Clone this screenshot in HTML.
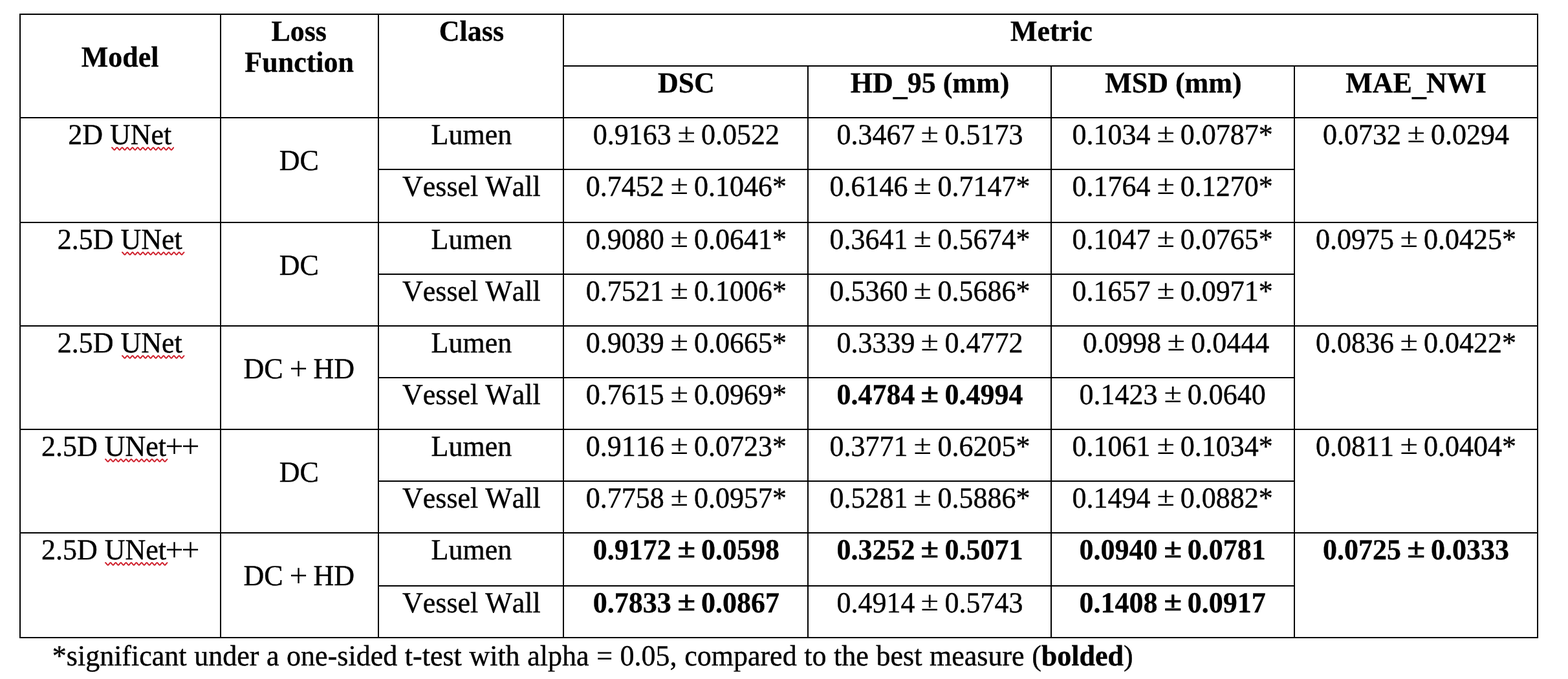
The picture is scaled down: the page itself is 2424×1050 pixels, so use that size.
<!DOCTYPE html>
<html lang="en">
<head>
<meta charset="utf-8">
<title>Table</title>
<style>
html,body{margin:0;padding:0;background:#fff;}
body{width:2424px;height:1050px;position:relative;overflow:hidden;font-family:"Liberation Serif",serif;font-size:44px;color:#000;font-kerning:none;text-rendering:geometricPrecision;}
.l{position:absolute;background:#000;}
.t{position:absolute;text-align:center;white-space:pre;line-height:50px;height:50px;}
.t{-webkit-text-stroke:0.4px #000;transform:scaleY(1.025);transform-origin:0 39.85px;}
.b{font-weight:bold;-webkit-text-stroke:0.3px #000;}
.pm{display:inline-block;transform:translate(0.2px,-2.5px) scale(1.14,0.95);}
.pl{display:inline-block;transform:scale(1.13);-webkit-text-stroke:0;}
.pm{-webkit-text-stroke:0.15px #000;}
.b .pm{-webkit-text-stroke:0.7px #000;}
.us{position:relative;top:3.5px;}
.sq{position:absolute;}
</style>
</head>
<body>
<div class="l" style="left:30px;top:21px;width:2348px;height:2px"></div>
<div class="l" style="left:870px;top:101px;width:1508px;height:2px"></div>
<div class="l" style="left:30px;top:181px;width:2348px;height:2px"></div>
<div class="l" style="left:584px;top:261px;width:1418px;height:2px"></div>
<div class="l" style="left:584px;top:423px;width:1418px;height:2px"></div>
<div class="l" style="left:584px;top:583px;width:1418px;height:2px"></div>
<div class="l" style="left:584px;top:743px;width:1418px;height:2px"></div>
<div class="l" style="left:584px;top:905px;width:1418px;height:2px"></div>
<div class="l" style="left:30px;top:343px;width:2348px;height:2px"></div>
<div class="l" style="left:30px;top:503px;width:2348px;height:2px"></div>
<div class="l" style="left:30px;top:663px;width:2348px;height:2px"></div>
<div class="l" style="left:30px;top:823px;width:2348px;height:2px"></div>
<div class="l" style="left:30px;top:985px;width:2348px;height:2px"></div>
<div class="l" style="left:30px;top:21px;width:2px;height:966px"></div>
<div class="l" style="left:340px;top:21px;width:2px;height:966px"></div>
<div class="l" style="left:584px;top:21px;width:2px;height:966px"></div>
<div class="l" style="left:870px;top:21px;width:2px;height:966px"></div>
<div class="l" style="left:2376px;top:21px;width:2px;height:966px"></div>
<div class="l" style="left:1248px;top:101px;width:2px;height:886px"></div>
<div class="l" style="left:1624px;top:101px;width:2px;height:886px"></div>
<div class="l" style="left:2000px;top:101px;width:2px;height:886px"></div>
<div class="t b" style="left:30.65px;top:63.65px;width:310px">Model</div>
<div class="t b" style="left:340.20px;top:23.85px;width:244px">Loss</div>
<div class="t b" style="left:340.70px;top:71.85px;width:244px">Function</div>
<div class="t b" style="left:585.90px;top:23.85px;width:286px">Class</div>
<div class="t b" style="left:872.40px;top:23.85px;width:1506px">Metric</div>
<div class="t b" style="left:871.90px;top:104.35px;width:378px">DSC</div>
<div class="t b" style="left:1249.50px;top:104.35px;width:376px">HD<span class="us">_</span>95 (mm)</div>
<div class="t b" style="left:1625.90px;top:104.35px;width:376px">MSD (mm)</div>
<div class="t b" style="left:2001.00px;top:104.35px;width:376px">MAE<span class="us">_</span>NWI</div>
<div class="t" style="left:30.25px;top:184.35px;width:310px">2D <span class="u">UNet</span></div>
<div class="t" style="left:340.20px;top:223.95px;width:244px">DC</div>
<div class="t" style="left:585.90px;top:184.35px;width:286px">Lumen</div>
<div class="t" style="left:585.90px;top:264.35px;width:286px">Vessel Wall</div>
<div class="t" style="left:871.90px;top:184.35px;width:378px">0.9163 <span class="pm">±</span> 0.0522</div>
<div class="t" style="left:1249.50px;top:184.35px;width:376px">0.3467 <span class="pm">±</span> 0.5173</div>
<div class="t" style="left:1624.70px;top:184.35px;width:376px">0.1034 <span class="pm">±</span> 0.0787*</div>
<div class="t" style="left:2001.00px;top:184.35px;width:376px">0.0732 <span class="pm">±</span> 0.0294</div>
<div class="t" style="left:871.90px;top:264.35px;width:378px">0.7452 <span class="pm">±</span> 0.1046*</div>
<div class="t" style="left:1249.50px;top:264.35px;width:376px">0.6146 <span class="pm">±</span> 0.7147*</div>
<div class="t" style="left:1624.70px;top:264.35px;width:376px">0.1764 <span class="pm">±</span> 0.1270*</div>
<div class="t" style="left:30.25px;top:346.35px;width:310px">2.5D <span class="u">UNet</span></div>
<div class="t" style="left:340.20px;top:385.95px;width:244px">DC</div>
<div class="t" style="left:585.90px;top:346.35px;width:286px">Lumen</div>
<div class="t" style="left:585.90px;top:426.35px;width:286px">Vessel Wall</div>
<div class="t" style="left:871.90px;top:346.35px;width:378px">0.9080 <span class="pm">±</span> 0.0641*</div>
<div class="t" style="left:1249.50px;top:346.35px;width:376px">0.3641 <span class="pm">±</span> 0.5674*</div>
<div class="t" style="left:1624.70px;top:346.35px;width:376px">0.1047 <span class="pm">±</span> 0.0765*</div>
<div class="t" style="left:2001.00px;top:346.35px;width:376px">0.0975 <span class="pm">±</span> 0.0425*</div>
<div class="t" style="left:871.90px;top:426.35px;width:378px">0.7521 <span class="pm">±</span> 0.1006*</div>
<div class="t" style="left:1249.50px;top:426.35px;width:376px">0.5360 <span class="pm">±</span> 0.5686*</div>
<div class="t" style="left:1624.70px;top:426.35px;width:376px">0.1657 <span class="pm">±</span> 0.0971*</div>
<div class="t" style="left:30.25px;top:506.35px;width:310px">2.5D <span class="u">UNet</span></div>
<div class="t" style="left:340.20px;top:545.95px;width:244px">DC <span class="pl">+</span> HD</div>
<div class="t" style="left:585.90px;top:506.35px;width:286px">Lumen</div>
<div class="t" style="left:585.90px;top:586.35px;width:286px">Vessel Wall</div>
<div class="t" style="left:871.90px;top:506.35px;width:378px">0.9039 <span class="pm">±</span> 0.0665*</div>
<div class="t" style="left:1249.50px;top:506.35px;width:376px">0.3339 <span class="pm">±</span> 0.4772</div>
<div class="t" style="left:1624.70px;top:506.35px;width:376px"> 0.0998 <span class="pm">±</span> 0.0444</div>
<div class="t" style="left:2001.00px;top:506.35px;width:376px">0.0836 <span class="pm">±</span> 0.0422*</div>
<div class="t" style="left:871.90px;top:586.35px;width:378px">0.7615 <span class="pm">±</span> 0.0969*</div>
<div class="t b" style="left:1249.50px;top:586.35px;width:376px">0.4784 <span class="pm">±</span> 0.4994</div>
<div class="t" style="left:1624.70px;top:586.35px;width:376px">0.1423 <span class="pm">±</span> 0.0640</div>
<div class="t" style="left:30.25px;top:666.35px;width:310px">2.5D <span class="u">UNet</span><span class="pl">+</span><span class="pl">+</span></div>
<div class="t" style="left:340.20px;top:705.95px;width:244px">DC</div>
<div class="t" style="left:585.90px;top:666.35px;width:286px">Lumen</div>
<div class="t" style="left:585.90px;top:746.35px;width:286px">Vessel Wall</div>
<div class="t" style="left:871.90px;top:666.35px;width:378px">0.9116 <span class="pm">±</span> 0.0723*</div>
<div class="t" style="left:1249.50px;top:666.35px;width:376px">0.3771 <span class="pm">±</span> 0.6205*</div>
<div class="t" style="left:1624.70px;top:666.35px;width:376px">0.1061 <span class="pm">±</span> 0.1034*</div>
<div class="t" style="left:2001.00px;top:666.35px;width:376px">0.0811 <span class="pm">±</span> 0.0404*</div>
<div class="t" style="left:871.90px;top:746.35px;width:378px">0.7758 <span class="pm">±</span> 0.0957*</div>
<div class="t" style="left:1249.50px;top:746.35px;width:376px">0.5281 <span class="pm">±</span> 0.5886*</div>
<div class="t" style="left:1624.70px;top:746.35px;width:376px">0.1494 <span class="pm">±</span> 0.0882*</div>
<div class="t" style="left:30.25px;top:826.35px;width:310px">2.5D <span class="u">UNet</span><span class="pl">+</span><span class="pl">+</span></div>
<div class="t" style="left:340.20px;top:865.95px;width:244px">DC <span class="pl">+</span> HD</div>
<div class="t" style="left:585.90px;top:826.35px;width:286px">Lumen</div>
<div class="t" style="left:585.90px;top:908.35px;width:286px">Vessel Wall</div>
<div class="t b" style="left:871.90px;top:826.35px;width:378px">0.9172 <span class="pm">±</span> 0.0598</div>
<div class="t b" style="left:1249.50px;top:826.35px;width:376px">0.3252 <span class="pm">±</span> 0.5071</div>
<div class="t b" style="left:1624.70px;top:826.35px;width:376px">0.0940 <span class="pm">±</span> 0.0781</div>
<div class="t b" style="left:2001.00px;top:826.35px;width:376px">0.0725 <span class="pm">±</span> 0.0333</div>
<div class="t b" style="left:871.90px;top:908.35px;width:378px">0.7833 <span class="pm">±</span> 0.0867</div>
<div class="t" style="left:1249.50px;top:908.35px;width:376px">0.4914 <span class="pm">±</span> 0.5743</div>
<div class="t b" style="left:1624.70px;top:908.35px;width:376px">0.1408 <span class="pm">±</span> 0.0917</div>
<svg class="sq" style="left:171.70px;top:225.90px" width="97.8" height="8" viewBox="0 0 97.8 8"><polyline points="1.0,2.21 1.5,2.43 2.0,2.89 2.5,3.51 3.0,4.21 3.5,4.88 4.0,5.41 4.5,5.73 5.0,5.79 5.5,5.57 6.0,5.11 6.5,4.49 7.0,3.79 7.5,3.12 8.0,2.59 8.5,2.27 9.0,2.21 9.5,2.43 10.0,2.89 10.5,3.51 11.0,4.21 11.5,4.88 12.0,5.41 12.5,5.73 13.0,5.79 13.5,5.57 14.0,5.11 14.5,4.49 15.0,3.79 15.5,3.12 16.0,2.59 16.5,2.27 17.0,2.21 17.5,2.43 18.0,2.89 18.5,3.51 19.0,4.21 19.5,4.88 20.0,5.41 20.5,5.73 21.0,5.79 21.5,5.57 22.0,5.11 22.5,4.49 23.0,3.79 23.5,3.12 24.0,2.59 24.5,2.27 25.0,2.21 25.5,2.43 26.0,2.89 26.5,3.51 27.0,4.21 27.5,4.88 28.0,5.41 28.5,5.73 29.0,5.79 29.5,5.57 30.0,5.11 30.5,4.49 31.0,3.79 31.5,3.12 32.0,2.59 32.5,2.27 33.0,2.21 33.5,2.43 34.0,2.89 34.5,3.51 35.0,4.21 35.5,4.88 36.0,5.41 36.5,5.73 37.0,5.79 37.5,5.57 38.0,5.11 38.5,4.49 39.0,3.79 39.5,3.12 40.0,2.59 40.5,2.27 41.0,2.21 41.5,2.43 42.0,2.89 42.5,3.51 43.0,4.21 43.5,4.88 44.0,5.41 44.5,5.73 45.0,5.79 45.5,5.57 46.0,5.11 46.5,4.49 47.0,3.79 47.5,3.12 48.0,2.59 48.5,2.27 49.0,2.21 49.5,2.43 50.0,2.89 50.5,3.51 51.0,4.21 51.5,4.88 52.0,5.41 52.5,5.73 53.0,5.79 53.5,5.57 54.0,5.11 54.5,4.49 55.0,3.79 55.5,3.12 56.0,2.59 56.5,2.27 57.0,2.21 57.5,2.43 58.0,2.89 58.5,3.51 59.0,4.21 59.5,4.88 60.0,5.41 60.5,5.73 61.0,5.79 61.5,5.57 62.0,5.11 62.5,4.49 63.0,3.79 63.5,3.12 64.0,2.59 64.5,2.27 65.0,2.21 65.5,2.43 66.0,2.89 66.5,3.51 67.0,4.21 67.5,4.88 68.0,5.41 68.5,5.73 69.0,5.79 69.5,5.57 70.0,5.11 70.5,4.49 71.0,3.79 71.5,3.12 72.0,2.59 72.5,2.27 73.0,2.21 73.5,2.43 74.0,2.89 74.5,3.51 75.0,4.21 75.5,4.88 76.0,5.41 76.5,5.73 77.0,5.79 77.5,5.57 78.0,5.11 78.5,4.49 79.0,3.79 79.5,3.12 80.0,2.59 80.5,2.27 81.0,2.21 81.5,2.43 82.0,2.89 82.5,3.51 83.0,4.21 83.5,4.88 84.0,5.41 84.5,5.73 85.0,5.79 85.5,5.57 86.0,5.11 86.5,4.49 87.0,3.79 87.5,3.12 88.0,2.59 88.5,2.27 89.0,2.21 89.5,2.43 90.0,2.89 90.5,3.51 91.0,4.21 91.5,4.88 92.0,5.41 92.5,5.73 93.0,5.79 93.5,5.57 94.0,5.11 94.5,4.49 95.0,3.79 95.5,3.12 96.0,2.59 96.5,2.27" fill="none" stroke="#cf1f2b" stroke-width="2" stroke-linecap="round" stroke-linejoin="round"/></svg>
<svg class="sq" style="left:188.00px;top:387.90px" width="97.5" height="8" viewBox="0 0 97.5 8"><polyline points="1.0,2.21 1.5,2.43 2.0,2.89 2.5,3.51 3.0,4.21 3.5,4.88 4.0,5.41 4.5,5.73 5.0,5.79 5.5,5.57 6.0,5.11 6.5,4.49 7.0,3.79 7.5,3.12 8.0,2.59 8.5,2.27 9.0,2.21 9.5,2.43 10.0,2.89 10.5,3.51 11.0,4.21 11.5,4.88 12.0,5.41 12.5,5.73 13.0,5.79 13.5,5.57 14.0,5.11 14.5,4.49 15.0,3.79 15.5,3.12 16.0,2.59 16.5,2.27 17.0,2.21 17.5,2.43 18.0,2.89 18.5,3.51 19.0,4.21 19.5,4.88 20.0,5.41 20.5,5.73 21.0,5.79 21.5,5.57 22.0,5.11 22.5,4.49 23.0,3.79 23.5,3.12 24.0,2.59 24.5,2.27 25.0,2.21 25.5,2.43 26.0,2.89 26.5,3.51 27.0,4.21 27.5,4.88 28.0,5.41 28.5,5.73 29.0,5.79 29.5,5.57 30.0,5.11 30.5,4.49 31.0,3.79 31.5,3.12 32.0,2.59 32.5,2.27 33.0,2.21 33.5,2.43 34.0,2.89 34.5,3.51 35.0,4.21 35.5,4.88 36.0,5.41 36.5,5.73 37.0,5.79 37.5,5.57 38.0,5.11 38.5,4.49 39.0,3.79 39.5,3.12 40.0,2.59 40.5,2.27 41.0,2.21 41.5,2.43 42.0,2.89 42.5,3.51 43.0,4.21 43.5,4.88 44.0,5.41 44.5,5.73 45.0,5.79 45.5,5.57 46.0,5.11 46.5,4.49 47.0,3.79 47.5,3.12 48.0,2.59 48.5,2.27 49.0,2.21 49.5,2.43 50.0,2.89 50.5,3.51 51.0,4.21 51.5,4.88 52.0,5.41 52.5,5.73 53.0,5.79 53.5,5.57 54.0,5.11 54.5,4.49 55.0,3.79 55.5,3.12 56.0,2.59 56.5,2.27 57.0,2.21 57.5,2.43 58.0,2.89 58.5,3.51 59.0,4.21 59.5,4.88 60.0,5.41 60.5,5.73 61.0,5.79 61.5,5.57 62.0,5.11 62.5,4.49 63.0,3.79 63.5,3.12 64.0,2.59 64.5,2.27 65.0,2.21 65.5,2.43 66.0,2.89 66.5,3.51 67.0,4.21 67.5,4.88 68.0,5.41 68.5,5.73 69.0,5.79 69.5,5.57 70.0,5.11 70.5,4.49 71.0,3.79 71.5,3.12 72.0,2.59 72.5,2.27 73.0,2.21 73.5,2.43 74.0,2.89 74.5,3.51 75.0,4.21 75.5,4.88 76.0,5.41 76.5,5.73 77.0,5.79 77.5,5.57 78.0,5.11 78.5,4.49 79.0,3.79 79.5,3.12 80.0,2.59 80.5,2.27 81.0,2.21 81.5,2.43 82.0,2.89 82.5,3.51 83.0,4.21 83.5,4.88 84.0,5.41 84.5,5.73 85.0,5.79 85.5,5.57 86.0,5.11 86.5,4.49 87.0,3.79 87.5,3.12 88.0,2.59 88.5,2.27 89.0,2.21 89.5,2.43 90.0,2.89 90.5,3.51 91.0,4.21 91.5,4.88 92.0,5.41 92.5,5.73 93.0,5.79 93.5,5.57 94.0,5.11 94.5,4.49 95.0,3.79 95.5,3.12 96.0,2.59 96.5,2.27" fill="none" stroke="#cf1f2b" stroke-width="2" stroke-linecap="round" stroke-linejoin="round"/></svg>
<svg class="sq" style="left:188.00px;top:547.90px" width="97.5" height="8" viewBox="0 0 97.5 8"><polyline points="1.0,2.21 1.5,2.43 2.0,2.89 2.5,3.51 3.0,4.21 3.5,4.88 4.0,5.41 4.5,5.73 5.0,5.79 5.5,5.57 6.0,5.11 6.5,4.49 7.0,3.79 7.5,3.12 8.0,2.59 8.5,2.27 9.0,2.21 9.5,2.43 10.0,2.89 10.5,3.51 11.0,4.21 11.5,4.88 12.0,5.41 12.5,5.73 13.0,5.79 13.5,5.57 14.0,5.11 14.5,4.49 15.0,3.79 15.5,3.12 16.0,2.59 16.5,2.27 17.0,2.21 17.5,2.43 18.0,2.89 18.5,3.51 19.0,4.21 19.5,4.88 20.0,5.41 20.5,5.73 21.0,5.79 21.5,5.57 22.0,5.11 22.5,4.49 23.0,3.79 23.5,3.12 24.0,2.59 24.5,2.27 25.0,2.21 25.5,2.43 26.0,2.89 26.5,3.51 27.0,4.21 27.5,4.88 28.0,5.41 28.5,5.73 29.0,5.79 29.5,5.57 30.0,5.11 30.5,4.49 31.0,3.79 31.5,3.12 32.0,2.59 32.5,2.27 33.0,2.21 33.5,2.43 34.0,2.89 34.5,3.51 35.0,4.21 35.5,4.88 36.0,5.41 36.5,5.73 37.0,5.79 37.5,5.57 38.0,5.11 38.5,4.49 39.0,3.79 39.5,3.12 40.0,2.59 40.5,2.27 41.0,2.21 41.5,2.43 42.0,2.89 42.5,3.51 43.0,4.21 43.5,4.88 44.0,5.41 44.5,5.73 45.0,5.79 45.5,5.57 46.0,5.11 46.5,4.49 47.0,3.79 47.5,3.12 48.0,2.59 48.5,2.27 49.0,2.21 49.5,2.43 50.0,2.89 50.5,3.51 51.0,4.21 51.5,4.88 52.0,5.41 52.5,5.73 53.0,5.79 53.5,5.57 54.0,5.11 54.5,4.49 55.0,3.79 55.5,3.12 56.0,2.59 56.5,2.27 57.0,2.21 57.5,2.43 58.0,2.89 58.5,3.51 59.0,4.21 59.5,4.88 60.0,5.41 60.5,5.73 61.0,5.79 61.5,5.57 62.0,5.11 62.5,4.49 63.0,3.79 63.5,3.12 64.0,2.59 64.5,2.27 65.0,2.21 65.5,2.43 66.0,2.89 66.5,3.51 67.0,4.21 67.5,4.88 68.0,5.41 68.5,5.73 69.0,5.79 69.5,5.57 70.0,5.11 70.5,4.49 71.0,3.79 71.5,3.12 72.0,2.59 72.5,2.27 73.0,2.21 73.5,2.43 74.0,2.89 74.5,3.51 75.0,4.21 75.5,4.88 76.0,5.41 76.5,5.73 77.0,5.79 77.5,5.57 78.0,5.11 78.5,4.49 79.0,3.79 79.5,3.12 80.0,2.59 80.5,2.27 81.0,2.21 81.5,2.43 82.0,2.89 82.5,3.51 83.0,4.21 83.5,4.88 84.0,5.41 84.5,5.73 85.0,5.79 85.5,5.57 86.0,5.11 86.5,4.49 87.0,3.79 87.5,3.12 88.0,2.59 88.5,2.27 89.0,2.21 89.5,2.43 90.0,2.89 90.5,3.51 91.0,4.21 91.5,4.88 92.0,5.41 92.5,5.73 93.0,5.79 93.5,5.57 94.0,5.11 94.5,4.49 95.0,3.79 95.5,3.12 96.0,2.59 96.5,2.27" fill="none" stroke="#cf1f2b" stroke-width="2" stroke-linecap="round" stroke-linejoin="round"/></svg>
<svg class="sq" style="left:162.00px;top:707.90px" width="97.5" height="8" viewBox="0 0 97.5 8"><polyline points="1.0,2.21 1.5,2.43 2.0,2.89 2.5,3.51 3.0,4.21 3.5,4.88 4.0,5.41 4.5,5.73 5.0,5.79 5.5,5.57 6.0,5.11 6.5,4.49 7.0,3.79 7.5,3.12 8.0,2.59 8.5,2.27 9.0,2.21 9.5,2.43 10.0,2.89 10.5,3.51 11.0,4.21 11.5,4.88 12.0,5.41 12.5,5.73 13.0,5.79 13.5,5.57 14.0,5.11 14.5,4.49 15.0,3.79 15.5,3.12 16.0,2.59 16.5,2.27 17.0,2.21 17.5,2.43 18.0,2.89 18.5,3.51 19.0,4.21 19.5,4.88 20.0,5.41 20.5,5.73 21.0,5.79 21.5,5.57 22.0,5.11 22.5,4.49 23.0,3.79 23.5,3.12 24.0,2.59 24.5,2.27 25.0,2.21 25.5,2.43 26.0,2.89 26.5,3.51 27.0,4.21 27.5,4.88 28.0,5.41 28.5,5.73 29.0,5.79 29.5,5.57 30.0,5.11 30.5,4.49 31.0,3.79 31.5,3.12 32.0,2.59 32.5,2.27 33.0,2.21 33.5,2.43 34.0,2.89 34.5,3.51 35.0,4.21 35.5,4.88 36.0,5.41 36.5,5.73 37.0,5.79 37.5,5.57 38.0,5.11 38.5,4.49 39.0,3.79 39.5,3.12 40.0,2.59 40.5,2.27 41.0,2.21 41.5,2.43 42.0,2.89 42.5,3.51 43.0,4.21 43.5,4.88 44.0,5.41 44.5,5.73 45.0,5.79 45.5,5.57 46.0,5.11 46.5,4.49 47.0,3.79 47.5,3.12 48.0,2.59 48.5,2.27 49.0,2.21 49.5,2.43 50.0,2.89 50.5,3.51 51.0,4.21 51.5,4.88 52.0,5.41 52.5,5.73 53.0,5.79 53.5,5.57 54.0,5.11 54.5,4.49 55.0,3.79 55.5,3.12 56.0,2.59 56.5,2.27 57.0,2.21 57.5,2.43 58.0,2.89 58.5,3.51 59.0,4.21 59.5,4.88 60.0,5.41 60.5,5.73 61.0,5.79 61.5,5.57 62.0,5.11 62.5,4.49 63.0,3.79 63.5,3.12 64.0,2.59 64.5,2.27 65.0,2.21 65.5,2.43 66.0,2.89 66.5,3.51 67.0,4.21 67.5,4.88 68.0,5.41 68.5,5.73 69.0,5.79 69.5,5.57 70.0,5.11 70.5,4.49 71.0,3.79 71.5,3.12 72.0,2.59 72.5,2.27 73.0,2.21 73.5,2.43 74.0,2.89 74.5,3.51 75.0,4.21 75.5,4.88 76.0,5.41 76.5,5.73 77.0,5.79 77.5,5.57 78.0,5.11 78.5,4.49 79.0,3.79 79.5,3.12 80.0,2.59 80.5,2.27 81.0,2.21 81.5,2.43 82.0,2.89 82.5,3.51 83.0,4.21 83.5,4.88 84.0,5.41 84.5,5.73 85.0,5.79 85.5,5.57 86.0,5.11 86.5,4.49 87.0,3.79 87.5,3.12 88.0,2.59 88.5,2.27 89.0,2.21 89.5,2.43 90.0,2.89 90.5,3.51 91.0,4.21 91.5,4.88 92.0,5.41 92.5,5.73 93.0,5.79 93.5,5.57 94.0,5.11 94.5,4.49 95.0,3.79 95.5,3.12 96.0,2.59 96.5,2.27" fill="none" stroke="#cf1f2b" stroke-width="2" stroke-linecap="round" stroke-linejoin="round"/></svg>
<svg class="sq" style="left:162.00px;top:867.90px" width="97.5" height="8" viewBox="0 0 97.5 8"><polyline points="1.0,2.21 1.5,2.43 2.0,2.89 2.5,3.51 3.0,4.21 3.5,4.88 4.0,5.41 4.5,5.73 5.0,5.79 5.5,5.57 6.0,5.11 6.5,4.49 7.0,3.79 7.5,3.12 8.0,2.59 8.5,2.27 9.0,2.21 9.5,2.43 10.0,2.89 10.5,3.51 11.0,4.21 11.5,4.88 12.0,5.41 12.5,5.73 13.0,5.79 13.5,5.57 14.0,5.11 14.5,4.49 15.0,3.79 15.5,3.12 16.0,2.59 16.5,2.27 17.0,2.21 17.5,2.43 18.0,2.89 18.5,3.51 19.0,4.21 19.5,4.88 20.0,5.41 20.5,5.73 21.0,5.79 21.5,5.57 22.0,5.11 22.5,4.49 23.0,3.79 23.5,3.12 24.0,2.59 24.5,2.27 25.0,2.21 25.5,2.43 26.0,2.89 26.5,3.51 27.0,4.21 27.5,4.88 28.0,5.41 28.5,5.73 29.0,5.79 29.5,5.57 30.0,5.11 30.5,4.49 31.0,3.79 31.5,3.12 32.0,2.59 32.5,2.27 33.0,2.21 33.5,2.43 34.0,2.89 34.5,3.51 35.0,4.21 35.5,4.88 36.0,5.41 36.5,5.73 37.0,5.79 37.5,5.57 38.0,5.11 38.5,4.49 39.0,3.79 39.5,3.12 40.0,2.59 40.5,2.27 41.0,2.21 41.5,2.43 42.0,2.89 42.5,3.51 43.0,4.21 43.5,4.88 44.0,5.41 44.5,5.73 45.0,5.79 45.5,5.57 46.0,5.11 46.5,4.49 47.0,3.79 47.5,3.12 48.0,2.59 48.5,2.27 49.0,2.21 49.5,2.43 50.0,2.89 50.5,3.51 51.0,4.21 51.5,4.88 52.0,5.41 52.5,5.73 53.0,5.79 53.5,5.57 54.0,5.11 54.5,4.49 55.0,3.79 55.5,3.12 56.0,2.59 56.5,2.27 57.0,2.21 57.5,2.43 58.0,2.89 58.5,3.51 59.0,4.21 59.5,4.88 60.0,5.41 60.5,5.73 61.0,5.79 61.5,5.57 62.0,5.11 62.5,4.49 63.0,3.79 63.5,3.12 64.0,2.59 64.5,2.27 65.0,2.21 65.5,2.43 66.0,2.89 66.5,3.51 67.0,4.21 67.5,4.88 68.0,5.41 68.5,5.73 69.0,5.79 69.5,5.57 70.0,5.11 70.5,4.49 71.0,3.79 71.5,3.12 72.0,2.59 72.5,2.27 73.0,2.21 73.5,2.43 74.0,2.89 74.5,3.51 75.0,4.21 75.5,4.88 76.0,5.41 76.5,5.73 77.0,5.79 77.5,5.57 78.0,5.11 78.5,4.49 79.0,3.79 79.5,3.12 80.0,2.59 80.5,2.27 81.0,2.21 81.5,2.43 82.0,2.89 82.5,3.51 83.0,4.21 83.5,4.88 84.0,5.41 84.5,5.73 85.0,5.79 85.5,5.57 86.0,5.11 86.5,4.49 87.0,3.79 87.5,3.12 88.0,2.59 88.5,2.27 89.0,2.21 89.5,2.43 90.0,2.89 90.5,3.51 91.0,4.21 91.5,4.88 92.0,5.41 92.5,5.73 93.0,5.79 93.5,5.57 94.0,5.11 94.5,4.49 95.0,3.79 95.5,3.12 96.0,2.59 96.5,2.27" fill="none" stroke="#cf1f2b" stroke-width="2" stroke-linecap="round" stroke-linejoin="round"/></svg>
<div class="t" style="left:80.8px;top:990.15px;text-align:left;word-spacing:0.62px">*significant under a one-sided t-test with alpha = 0.05, compared to the best measure (<b>bolded</b>)</div>
</body>
</html>
